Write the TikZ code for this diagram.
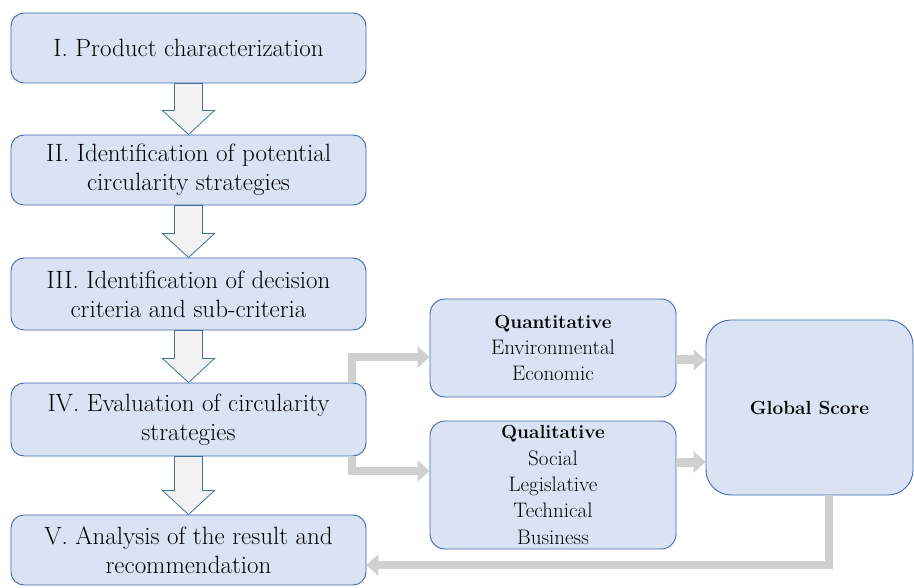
\documentclass[tikz,border=0pt]{standalone}
\usetikzlibrary{arrows.meta,calc}
\definecolor{boxfill}{HTML}{DAE3F3}
\definecolor{boxline}{HTML}{3F69AE}
\definecolor{arrfill}{HTML}{F2F2F2}
\definecolor{arrline}{HTML}{41719C}
\definecolor{conncol}{HTML}{D0D0D0}
\tikzset{
  mainbox/.style={draw=boxline, fill=boxfill, line width=0.9pt, rounded corners=13pt,
    minimum width=355pt, align=center, inner sep=0pt,
    font=\fontsize{25}{29}\selectfont},
  subbox/.style={draw=boxline, fill=boxfill, line width=0.9pt, rounded corners=15pt,
    minimum width=246pt, align=center, inner sep=0pt,
    font=\fontsize{21}{26.3}\selectfont},
  blockarr/.style={draw=arrline, fill=arrfill, line width=0.8pt, line join=miter},
  conn/.style={draw=conncol, line width=8pt, -{Triangle[length=12pt,width=21pt]}}
}
\newcommand{\hd}[1]{{\fontsize{19}{26.3}\selectfont\bfseries #1}}
\newcommand{\blockarrow}[2]{%
  \path[blockarr] ($(#1.south)+(-14,0)$) -- ($(#2.north)+(-14,-24)$) -- ($(#2.north)+(-26,-24)$)
   -- (#2.north) -- ($(#2.north)+(26,-24)$) -- ($(#2.north)+(14,-24)$) -- ($(#1.south)+(14,0)$) -- cycle;}
\begin{document}
\begin{tikzpicture}[x=1pt,y=-1pt]
\useasboundingbox (0,0) rectangle (914,588);
\node[mainbox, minimum height=70pt] (b1) at (188.5,48) {I. Product characterization};
\node[mainbox, minimum height=70pt] (b2) at (188.5,170) {II. Identification of potential\\circularity strategies};
\node[mainbox, minimum height=72pt] (b3) at (188.5,294) {III. Identification of decision\\criteria and sub-criteria};
\node[mainbox, minimum height=73pt] (b4) at (188.5,419.5) {IV. Evaluation of circularity\\strategies};
\node[mainbox, minimum height=70pt] (b5) at (188.5,550) {V. Analysis of the result and\\recommendation};
\node[subbox, minimum height=98pt] (quant) at (553,348) {\hd{Quantitative}\\Environmental\\Economic};
\node[subbox, minimum height=128pt] (qual) at (553,485) {\hd{Qualitative}\\Social\\Legislative\\Technical\\Business};
\node[subbox, minimum width=207pt, minimum height=175pt, rounded corners=25pt] (glob) at (809.5,407.5) {\hd{Global Score}};
\blockarrow{b1}{b2}
\blockarrow{b2}{b3}
\blockarrow{b3}{b4}
\blockarrow{b4}{b5}
\draw[conn] ([xshift=-14pt]b4.north east) |- ([yshift=-9pt]quant.west);
\draw[conn] ([xshift=-14pt]b4.south east) |- ([yshift=14pt]qual.west);
\coordinate (q1) at ([yshift=-12pt]quant.east);
\coordinate (q2) at ([yshift=23pt]qual.east);
\draw[conn, line width=9pt] (q1) -- (q1 -| glob.west);
\draw[conn, line width=9pt] (q2) -- (q2 -| glob.west);
\draw[conn] ([xshift=19pt]glob.south) |- ([yshift=-15pt]b5.east);
\end{tikzpicture}
\end{document}
